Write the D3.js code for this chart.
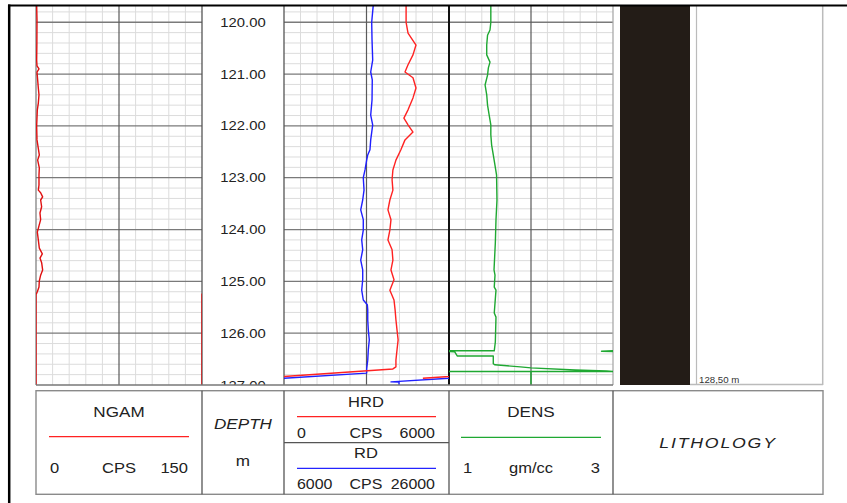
<!DOCTYPE html>
<html>
<head>
<meta charset="utf-8">
<script src="https://cdn.jsdelivr.net/npm/d3@7"></script>
<style>
body { margin: 0; background: #fff; }
svg { display: block; }
text { font-family: "Liberation Sans", Arial, Helvetica, sans-serif; fill: #222; }
</style>
</head>
<body>
<script>
// depth range of the plot and labelled depths (m)
var depthTop = 119.667;
var depthBase = 127.0;
var depthTicks = [120, 121, 122, 123, 124, 125, 126, 127];

// NGAM (CPS) - [depth, value]
var ngam = [
	[119.67, 0.6], [119.96, 0.9], [120.40, 0.8], [120.73, 0.6], [120.84, 0.9], [120.90, 2.7],
	[120.96, 0.9], [121.27, 2.1], [121.40, 2.7], [121.56, 2.1], [121.69, 1.2], [122.00, 0.6],
	[122.27, 0.9], [122.56, 3.0], [122.66, 1.5], [122.81, 3.0], [122.95, 2.7], [123.14, 2.7],
	[123.24, 2.1], [123.29, 4.2], [123.37, 6.0], [123.43, 4.2], [123.56, 5.1], [123.68, 3.6],
	[123.81, 4.2], [123.93, 2.7], [124.05, 1.2], [124.20, 2.1], [124.36, 3.0], [124.47, 5.7],
	[124.55, 3.6], [124.64, 5.1], [124.78, 6.0], [124.88, 4.2], [124.99, 3.0], [125.11, 2.7],
	[125.20, 1.2], [125.23, 0.6], [125.25, 0], [127.00, 0]
];

// HRD (CPS 0 - 6000)
var hrd = [
	[119.67, 4440], [120.00, 4440], [120.21, 4510], [120.44, 4800], [120.63, 4690], [120.82, 4510],
	[120.96, 4400], [121.07, 4690], [121.27, 4800], [121.46, 4690], [121.69, 4510], [121.85, 4360],
	[121.98, 4510], [122.12, 4690], [122.27, 4400], [122.46, 4250], [122.66, 4070], [122.85, 3960],
	[123.04, 3930], [123.24, 3960], [123.43, 3850], [123.62, 3780], [123.81, 3890], [124.01, 3850],
	[124.20, 3780], [124.39, 3930], [124.59, 3960], [124.78, 3890], [124.97, 4000], [125.17, 3850],
	[125.36, 4000], [125.55, 4040], [125.74, 4070], [125.94, 4110], [126.13, 4150], [126.32, 4110],
	[126.52, 4070], [126.65, 4070], [126.69, 3960], [126.87, -950]
];

// RD (CPS 6000 - 26000)
var rd = [
	[119.67, 16820], [120.00, 16630], [120.34, 16670], [120.73, 16750], [120.96, 16510], [121.11, 16700],
	[121.50, 16670], [121.79, 16510], [121.98, 16750], [122.27, 16510], [122.46, 16420], [122.56, 16150],
	[122.66, 16020], [122.85, 15820], [123.00, 15610], [123.24, 15700], [123.43, 15540], [123.62, 15300],
	[123.81, 15610], [124.01, 15610], [124.20, 15420], [124.39, 15540], [124.59, 15300], [124.78, 15540],
	[124.97, 15540], [125.17, 15420], [125.36, 15610], [125.45, 16100], [125.55, 16150], [125.74, 16150],
	[125.94, 16220], [126.13, 16340], [126.32, 16220], [126.52, 16150], [126.69, 16020], [126.77, 16020],
	[126.94, -1030], [126.945, -60], [127.00, -60]
];

// DENS (gm/cc 1 - 3)
var dens = [
	[119.67, 1.51], [120.00, 1.51], [120.15, 1.50], [120.25, 1.47], [120.44, 1.46], [120.63, 1.46],
	[120.77, 1.50], [120.88, 1.48], [121.02, 1.47], [121.21, 1.44], [121.40, 1.46], [121.60, 1.47],
	[121.79, 1.49], [121.98, 1.51], [122.17, 1.51], [122.37, 1.52], [122.56, 1.54], [122.75, 1.56],
	[122.95, 1.58], [123.43, 1.585], [123.81, 1.573], [124.26, 1.565], [124.78, 1.549], [124.88, 1.561],
	[125.11, 1.552], [125.17, 1.573], [125.61, 1.552], [125.69, 1.573], [126.17, 1.565], [126.34, 1.552],
	[126.34, 1.0], [126.35, 0.86], [126.36, 1.07], [126.44, 1.10], [126.44, 1.54], [126.59, 1.54],
	[126.61, 1.56], [126.65, 1.87], [126.67, 2.0], [126.71, 2.54], [126.73, 2.92], [126.74, 3.0],
	[126.74, 1.0], [126.74, 2.0], [127.00, 2.0]
];

// lithology column
var lithology = [{ top: 119.667, base: 127.0, color: "#231c17" }];
var tdLabel = "128,50 m";

var svg = d3.select("body").append("svg")
	.attr("width", 847)
	.attr("height", 503);
var defs = svg.append("defs");

var y = d3.scaleLinear().domain([depthTop, depthBase]).range([5, 385]);

var xNgam = d3.scaleLinear().domain([0, 150]).range([36, 202]);
var xHrd = d3.scaleLinear().domain([0, 6000]).range([284, 449]);
var xRd = d3.scaleLinear().domain([6000, 26000]).range([284, 449]);
var xDens = d3.scaleLinear().domain([1, 3]).range([449, 613]);

// text helper: the log fonts are a bit wider than Arial, so stretch them
function label(g, s, x, yy, anchor, size, italic) {
	return g.append("text")
		.attr("transform", "translate(" + x + "," + yy + ") scale(1.14,1)")
		.attr("text-anchor", anchor)
		.style("font-size", size + "px")
		.style("font-style", italic ? "italic" : "normal")
		.text(s);
}

// grid for a curve track
function drawGrid(xs) {
	var x0 = xs.range()[0], x1 = xs.range()[1];
	var g = svg.append("g");
	var minorDepths = d3.range(599, 636).map(function (i) { return i / 5; })
		.filter(function (d) { return Math.abs(d - Math.round(d)) > 0.01; });
	var vx = d3.range(1, 10).map(function (i) { return x0 + (x1 - x0) * i / 10; });

	g.selectAll(".hmin").data(minorDepths).enter().append("line")
		.attr("x1", x0).attr("x2", x1)
		.attr("y1", function (d) { return y(d); }).attr("y2", function (d) { return y(d); })
		.attr("stroke", "#dcdcdc").attr("stroke-width", 1);
	g.selectAll(".vmin").data(vx.filter(function (d, i) { return i !== 4; })).enter().append("line")
		.attr("x1", function (d) { return d; }).attr("x2", function (d) { return d; })
		.attr("y1", 5).attr("y2", 385)
		.attr("stroke", "#dcdcdc").attr("stroke-width", 1);
	g.selectAll(".hmaj").data(depthTicks.slice(0, -1)).enter().append("line")
		.attr("x1", x0).attr("x2", x1)
		.attr("y1", function (d) { return y(d); }).attr("y2", function (d) { return y(d); })
		.attr("stroke", "#7a7a7a").attr("stroke-width", 1.3);
	g.append("line")
		.attr("x1", vx[4]).attr("x2", vx[4]).attr("y1", 5).attr("y2", 385)
		.attr("stroke", "#5a5a5a").attr("stroke-width", 1.2);
}

drawGrid(xNgam);
drawGrid(xHrd);
drawGrid(xDens);

// track borders
var borders = [
	{ x: 36, c: "#777", w: 1.2 },
	{ x: 202, c: "#555", w: 1.3 },
	{ x: 284, c: "#555", w: 1.3 },
	{ x: 449, c: "#111", w: 2 },
	{ x: 613, c: "#aaa", w: 1.3 }
];
svg.selectAll(".border").data(borders).enter().append("line")
	.attr("x1", function (d) { return d.x; }).attr("x2", function (d) { return d.x; })
	.attr("y1", 5).attr("y2", 385)
	.attr("stroke", function (d) { return d.c; })
	.attr("stroke-width", function (d) { return d.w; });

// curves, wrapped back into the track when they go off scale
function drawCurve(data, xs, color, id) {
	var x0 = xs.range()[0], x1 = xs.range()[1], w = x1 - x0;
	defs.append("clipPath").attr("id", id)
		.append("rect").attr("x", x0).attr("y", 5).attr("width", w).attr("height", 380);
	var line = d3.line()
		.defined(function (d) { return d[1] != null; })
		.x(function (d) { return xs(d[1]); })
		.y(function (d) { return y(d[0]); });
	var g = svg.append("g").attr("clip-path", "url(#" + id + ")");
	[-w, 0, w].forEach(function (shift) {
		g.append("path")
			.datum(data)
			.attr("d", line)
			.attr("transform", "translate(" + shift + ",0)")
			.attr("fill", "none")
			.attr("stroke", color)
			.attr("stroke-width", 1.4)
			.attr("stroke-linejoin", "round");
	});
}

drawCurve(ngam, xNgam, "#e01010", "clipNgam");
drawCurve(rd, xRd, "#1f1fff", "clipRd");
drawCurve(hrd, xHrd, "#ff2222", "clipHrd");
drawCurve(dens, xDens, "#1fa832", "clipDens");

// depth labels
defs.append("clipPath").attr("id", "clipDepth")
	.append("rect").attr("x", 202).attr("y", 5).attr("width", 82).attr("height", 380);
var depthG = svg.append("g").attr("clip-path", "url(#clipDepth)");
depthTicks.forEach(function (d) {
	label(depthG, d.toFixed(2), 243, y(d) + 4.6, "middle", 13, false);
});

// lithology
svg.selectAll(".lith").data(lithology).enter().append("rect")
	.attr("x", 620).attr("width", 70)
	.attr("y", function (d) { return y(d.top); })
	.attr("height", function (d) { return y(d.base) - y(d.top); })
	.attr("fill", function (d) { return d.color; });
svg.append("line").attr("x1", 696.5).attr("x2", 696.5).attr("y1", 5).attr("y2", 385)
	.attr("stroke", "#bbb").attr("stroke-width", 1.2);
svg.append("line").attr("x1", 822.7).attr("x2", 822.7).attr("y1", 5).attr("y2", 385)
	.attr("stroke", "#bbb").attr("stroke-width", 1.5);
svg.append("line").attr("x1", 690).attr("x2", 823).attr("y1", 384.5).attr("y2", 384.5)
	.attr("stroke", "#bbb").attr("stroke-width", 1.3);
label(svg, tdLabel, 699, 383, "start", 8.5, false).style("fill", "#333");

// plot bottom
svg.append("line").attr("x1", 36).attr("x2", 613).attr("y1", 385).attr("y2", 385)
	.attr("stroke", "#777").attr("stroke-width", 1.5);

// header boxes
var head = svg.append("g");
head.append("rect").attr("x", 36).attr("y", 390.7).attr("width", 787).attr("height", 103.6)
	.attr("fill", "none").attr("stroke", "#8a8a8a").attr("stroke-width", 1.4);
[202, 284, 449, 613].forEach(function (x) {
	head.append("line").attr("x1", x).attr("x2", x).attr("y1", 390.7).attr("y2", 494.3)
		.attr("stroke", "#555").attr("stroke-width", 1.3);
});
head.append("line").attr("x1", 284).attr("x2", 449).attr("y1", 442.7).attr("y2", 442.7)
	.attr("stroke", "#555").attr("stroke-width", 1.3);

function keyLine(x1, x2, yy, color) {
	head.append("line").attr("x1", x1).attr("x2", x2).attr("y1", yy).attr("y2", yy)
		.attr("stroke", color).attr("stroke-width", 1.3);
}

label(head, "NGAM", 119, 417, "middle", 15, false);
keyLine(49, 189, 436.7, "#ff2222");
label(head, "0", 50, 473, "start", 14.5, false);
label(head, "CPS", 119, 473, "middle", 14.5, false);
label(head, "150", 188, 473, "end", 14.5, false);

label(head, "DEPTH", 243, 429, "middle", 15, true);
label(head, "m", 243, 466, "middle", 15, false);

label(head, "HRD", 366, 406.5, "middle", 14.5, false);
keyLine(297, 436, 416.7, "#ff2222");
label(head, "0", 297, 437.5, "start", 14, false);
label(head, "CPS", 366, 437.5, "middle", 14, false);
label(head, "6000", 435, 437.5, "end", 14, false);
label(head, "RD", 366, 458, "middle", 14.5, false);
keyLine(297, 436, 468.3, "#2424ff");
label(head, "6000", 297, 489, "start", 14, false);
label(head, "CPS", 366, 489, "middle", 14, false);
label(head, "26000", 435, 489, "end", 14, false);

label(head, "DENS", 531, 417, "middle", 15, false);
keyLine(461, 601, 437.3, "#1fa832");
label(head, "1", 463, 473, "start", 14.5, false);
label(head, "gm/cc", 531, 473, "middle", 14.5, false);
label(head, "3", 600, 473, "end", 14.5, false);

label(head, "LITHOLOGY", 718, 448, "middle", 15.5, true).style("letter-spacing", "1.6px");

// outer frame
svg.append("line").attr("x1", 8).attr("x2", 847).attr("y1", 5.5).attr("y2", 5.5)
	.attr("stroke", "#000").attr("stroke-width", 2.2);
svg.append("line").attr("x1", 9.2).attr("x2", 9.2).attr("y1", 4.5).attr("y2", 503)
	.attr("stroke", "#000").attr("stroke-width", 2.5);
</script>
</body>
</html>
